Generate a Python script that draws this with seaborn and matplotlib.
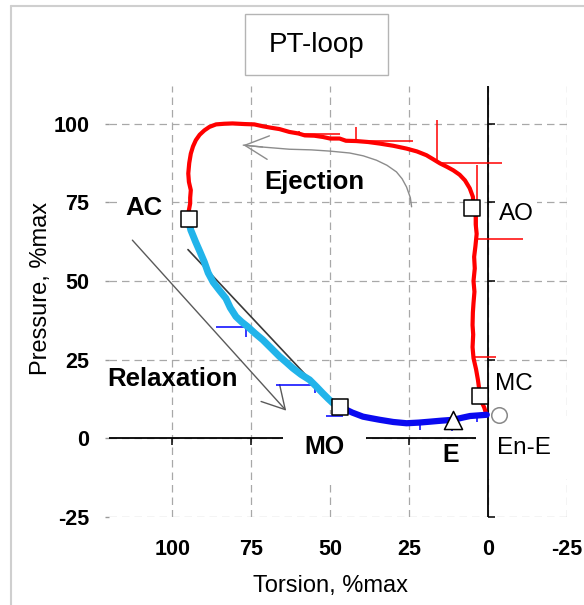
import matplotlib
matplotlib.use("Agg")
import matplotlib.pyplot as plt
from matplotlib.patches import Rectangle
from matplotlib.lines import Line2D
import seaborn as sns

sns.set_theme(style="white")
plt.rcParams["font.family"] = ["Liberation Sans", "DejaVu Sans"]
plt.rcParams["axes.unicode_minus"] = False
for key in ("text.color", "axes.labelcolor", "xtick.color", "ytick.color"):
    plt.rcParams[key] = "black"

# ---- data -------------------------------------------------------------
# Ejection limb (red): end-ejection -> MC -> AO -> peak -> AC
eject_torsion = [0.5, 1.2, 2.0, 2.5, 3.2, 3.8, 4.6, 4.9, 4.7, 4.9, 4.8, 4.6, 4.3,
                 4.6, 4.2, 4.4, 4.0, 3.6, 3.9, 3.9, 4.5, 4.8, 5.8, 7.3, 9.0, 11.0,
                 13.0, 15.2, 17.5, 19.5, 22.5, 25.8, 30.0, 34.3, 38.0, 41.7, 45.0,
                 47.0, 50.0, 52.3, 55.0, 58.0, 60.0, 62.9, 66.0, 68.5, 71.3, 74.0,
                 77.0, 80.9, 83.5, 86.1, 88.2, 89.8, 91.3, 92.5, 93.4, 94.1, 94.6,
                 94.9, 94.7, 94.1, 94.3, 94.3, 94.8, 95.0]
eject_pressure = [7.5, 9.8, 11.5, 13.5, 18.6, 22.0, 25.5, 29.0, 33.0, 36.0, 40.0,
                  43.0, 46.6, 50.0, 54.0, 57.7, 61.0, 65.0, 68.0, 70.4, 73.0, 76.8,
                  79.5, 82.0, 83.8, 85.2, 86.3, 87.4, 88.8, 90.0, 91.2, 92.1, 93.0,
                  93.7, 94.2, 94.5, 94.6, 95.3, 95.3, 95.8, 96.2, 96.3, 96.9, 97.4,
                  98.3, 98.7, 99.2, 99.8, 99.9, 100.1, 100.0, 99.8, 99.0, 97.9,
                  96.5, 94.8, 92.8, 90.5, 87.5, 84.2, 81.5, 78.9, 76.5, 74.7, 72.0,
                  70.0]

# Isovolumic relaxation (cyan): AC -> MO
relax_torsion = [95.0, 94.1, 92.6, 91.2, 89.8, 88.6, 87.0, 85.0, 83.0, 81.6, 79.8,
                 78.0, 76.1, 73.8, 71.3, 68.6, 66.0, 63.8, 61.8, 59.2, 56.5, 54.3,
                 52.3, 50.6, 49.1, 47.0]
relax_pressure = [70.0, 66.2, 62.5, 59.3, 56.0, 52.6, 49.6, 47.0, 44.5, 41.5, 38.7,
                  37.0, 35.5, 33.4, 31.3, 28.6, 26.0, 24.1, 22.3, 20.3, 18.6, 16.4,
                  14.3, 12.6, 11.2, 10.0]

# Filling (blue): MO -> end-ejection
fill_torsion = [47.5, 45.9, 43.0, 39.6, 37.0, 34.3, 30.0, 25.8, 22.0, 18.4, 15.0,
                11.0, 8.0, 5.7, 3.0, 0.4]
fill_pressure = [10.0, 9.6, 8.2, 6.9, 6.4, 5.9, 5.2, 4.8, 5.0, 5.3, 5.6, 5.9, 6.6,
                 7.1, 7.3, 7.5]

# Error bars on ejection (one-sided: towards lower torsion, higher pressure)
eject_err_torsion = [60.0, 41.7, 16.3, 3.6, 4.7]
eject_err_pressure = [96.9, 94.5, 87.4, 63.5, 26.0]
eject_err_dx = [13.0, 18.0, 20.6, 14.8, 7.2]
eject_err_dy = [0.8, 4.5, 13.7, 23.5, 0.0]

# Error bars on relaxation / filling (towards higher torsion, lower pressure)
relax_err_torsion = [76.6, 54.9, 46.0, 21.4, 11.5, 3.5]
relax_err_pressure = [35.5, 16.8, 7.1, 5.0, 5.9, 7.3]
relax_err_dx = [9.5, 12.2, 5.2, 0.0, 0.0, 0.0]
relax_err_dy = [3.4, 2.5, 0.0, 2.3, 3.7, 2.0]

# Valve events
square_names = ["AC", "AO", "MC", "MO"]
square_torsion = [94.8, 5.2, 2.5, 47.0]
square_pressure = [69.6, 73.1, 13.5, 10.0]
e_torsion, e_pressure = [11.0], [5.9]
ene_torsion, ene_pressure = [-3.6], [7.5]

# Arrows
ejection_arrow_x = [24.2, 24.6, 25.8, 27.2, 29.0, 32.0, 35.3, 39.5, 43.8, 50.0,
                    56.0, 62.9, 71.4, 77.5]
ejection_arrow_y = [73.6, 76.5, 79.9, 82.5, 84.7, 86.8, 88.4, 89.8, 90.7, 91.3,
                    91.7, 91.9, 92.6, 93.2]
relax_arrow_start, relax_arrow_end = (112.6, 63.0), (63.9, 8.8)
slope_line_x, slope_line_y = [95.0, 48.5], [60.0, 10.3]

ticks = [100, 75, 50, 25, 0, -25]
tick_labels = ["100", "75", "50", "25", "0", "-25"]

# ---- figure -----------------------------------------------------------
W, H = 584, 605
fig = plt.figure(figsize=(W / 100, H / 100), dpi=100)
ax = fig.add_axes([109 / W, 1 - 517 / H, (567 - 109) / W, (517 - 86) / H])
ax.set_xlim(120, -25)
ax.set_ylim(-25, 112)
for s in ax.spines.values():
    s.set_visible(False)

ax.set_xticks(ticks)
ax.set_xticklabels(tick_labels, fontsize=15.5, fontweight="bold")
ax.set_yticks(ticks)
ax.set_yticklabels(tick_labels, fontsize=15.5, fontweight="bold")
ax.tick_params(axis="x", length=0, pad=16)
ax.tick_params(axis="y", left=True, length=3, width=1, color="#999999", pad=11)
ax.grid(True, color="#a8a8a8", lw=0.9, ls=(0, (6, 4)), zorder=0)
ax.set_axisbelow(True)

ax.set_xlabel("Torsion, %max", fontsize=17)
ax.set_ylabel("Pressure, %max", fontsize=17)
ax.xaxis.set_label_coords(0.483, -0.135)
ax.yaxis.set_label_coords(-0.124, 0.531)

# Axis lines through the origin, with small ticks
ax.axhline(0, color="black", lw=1.3, zorder=1.5)
ax.axvline(0, color="black", lw=1.3, zorder=2.5)
nz = [t for t in ticks if t != 0]
ax.plot(nz, [0] * len(nz), ls="none", marker=3, ms=5, mew=1.1, color="black", zorder=1.5)
ax.plot([0] * len(nz), nz, ls="none", marker=1, ms=5, mew=1.1, color="black", zorder=2.5)

# Guide arrows
ax.plot(ejection_arrow_x, ejection_arrow_y, color="#8c8c8c", lw=1.0, zorder=3)
ax.annotate("", xy=(ejection_arrow_x[-1], ejection_arrow_y[-1]),
            xytext=(ejection_arrow_x[-2], ejection_arrow_y[-2]),
            arrowprops=dict(arrowstyle="->,head_length=1.7,head_width=0.85",
                            color="#8c8c8c", lw=1.0, shrinkA=0, shrinkB=0,
                            mutation_scale=10), zorder=3)
ax.annotate("", xy=relax_arrow_end, xytext=relax_arrow_start,
            arrowprops=dict(arrowstyle="->,head_length=1.6,head_width=0.9",
                            color="#5a5a5a", lw=1.0, shrinkA=0, shrinkB=0,
                            mutation_scale=10), zorder=3)
ax.plot(slope_line_x, slope_line_y, color="#3a3a3a", lw=1.2, zorder=3)

# Error bars
ax.errorbar(eject_err_torsion, eject_err_pressure,
            xerr=[eject_err_dx, [0] * len(eject_err_dx)],
            yerr=[[0] * len(eject_err_dy), eject_err_dy],
            fmt="none", ecolor="red", elinewidth=1.1, capsize=0, zorder=4)
ax.errorbar(relax_err_torsion, relax_err_pressure,
            xerr=[[0] * len(relax_err_dx), relax_err_dx],
            yerr=[relax_err_dy, [0] * len(relax_err_dy)],
            fmt="none", ecolor="#0000ff", elinewidth=1.1, capsize=0, zorder=4)

# Loop limbs
sns.lineplot(x=eject_torsion, y=eject_pressure, sort=False, estimator=None,
             color="#ff0000", lw=3.0, ax=ax, zorder=5)
sns.lineplot(x=relax_torsion, y=relax_pressure, sort=False, estimator=None,
             color="#22b4ea", lw=5.0, ax=ax, zorder=5)
sns.lineplot(x=fill_torsion, y=fill_pressure, sort=False, estimator=None,
             color="#0a0af0", lw=4.5, ax=ax, zorder=5)

# Event markers
sns.scatterplot(x=square_torsion, y=square_pressure, marker="s", s=125,
                facecolor="white", edgecolor="black", linewidth=1.1, ax=ax, zorder=8)
sns.scatterplot(x=e_torsion, y=e_pressure, marker="^", s=170,
                facecolor="white", edgecolor="black", linewidth=1.1, ax=ax, zorder=8)
sns.scatterplot(x=ene_torsion, y=ene_pressure, marker="o", s=125,
                facecolor="white", edgecolor="#888888", linewidth=1.1, ax=ax, zorder=8)

# Labels
small_box = dict(facecolor="white", edgecolor="none", boxstyle="square,pad=0.15")
wide_box = dict(facecolor="white", edgecolor="none", boxstyle="square,pad=0.85")
ax.text(114.7, 71.0, "AC", fontsize=18.5, fontweight="bold", ha="left", va="baseline",
        bbox=small_box, zorder=2)
ax.text(70.8, 79.4, "Ejection", fontsize=18.5, fontweight="bold", ha="left",
        va="baseline", zorder=2)
ax.text(-3.3, 69.4, "AO", fontsize=17.5, ha="left", va="baseline", bbox=small_box, zorder=2)
ax.text(120.5, 16.7, "Relaxation", fontsize=18.5, fontweight="bold", ha="left",
        va="baseline", zorder=2)
ax.text(58.1, -4.9, "MO", fontsize=18, fontweight="bold", ha="left", va="baseline",
        bbox=wide_box, zorder=2)
ax.text(14.4, -7.4, "E", fontsize=18, fontweight="bold", ha="left", va="baseline", zorder=2)
ax.text(-2.2, 15.4, "MC", fontsize=17.5, ha="left", va="baseline", zorder=2)
ax.text(-2.8, -4.9, "En-E", fontsize=17.5, ha="left", va="baseline", bbox=wide_box, zorder=2)

# Title box
fig.patches.append(Rectangle((245 / W, 1 - 75 / H), 143 / W, 61 / H,
                             transform=fig.transFigure, facecolor="white",
                             edgecolor="#b4b4b4", lw=1.0))
fig.text(316.5 / W, 1 - 45 / H, "PT-loop", fontsize=20, ha="center", va="center")

# Outer frame
fig.lines.append(Line2D([10.5 / W, 10.5 / W], [0, 1 - 5.5 / H], transform=fig.transFigure,
                        color="#cfcfcf", lw=1.5))
fig.lines.append(Line2D([10.5 / W, 1], [1 - 5.5 / H, 1 - 5.5 / H], transform=fig.transFigure,
                        color="#cfcfcf", lw=1.5))

fig.savefig("out.png", dpi=100)
